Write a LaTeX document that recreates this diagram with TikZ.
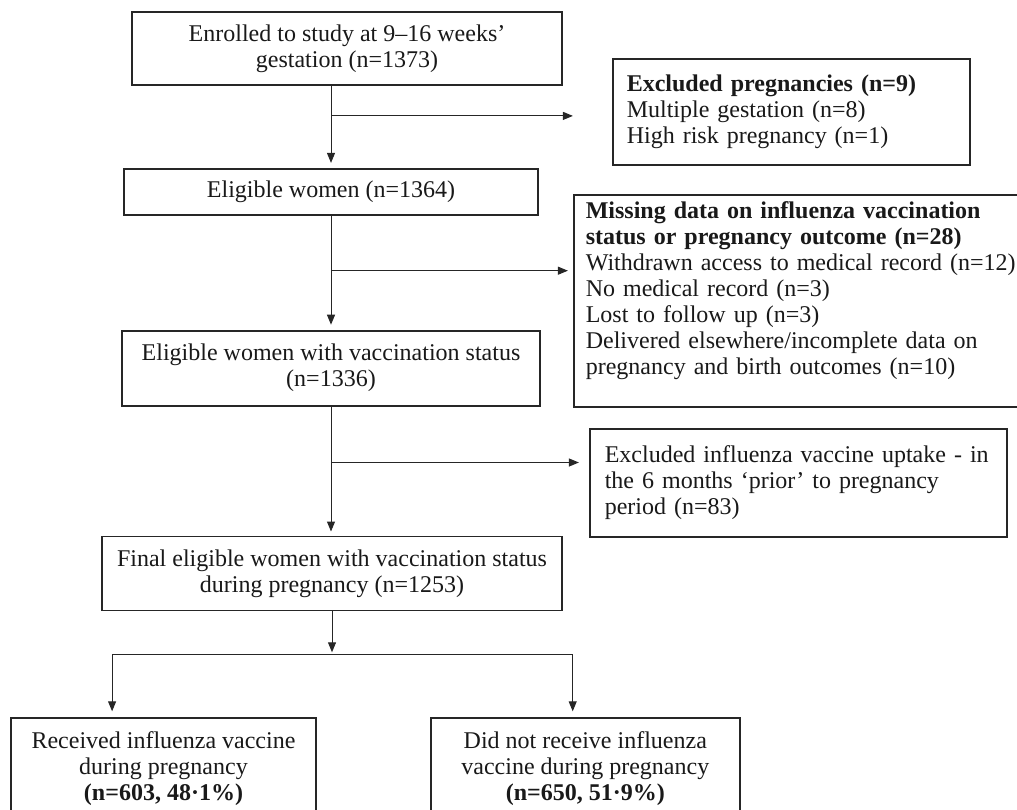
\documentclass[tikz,border=0pt]{standalone}
\usepackage{fontspec}
\setmainfont{Liberation Serif}
\usetikzlibrary{positioning,arrows.meta}
\tikzset{
	central/.style={rectangle, draw=black!85, line width=0.9pt, fill=white,
		text=black!90, font=\fontsize{12}{13}\selectfont, align=center,
		inner sep=1pt},
	lateral/.style={rectangle, draw=black!85, line width=0.9pt, fill=white,
		text=black!90, font=\fontsize{12}{13}\selectfont, align=left,
		inner ysep=1pt},
	flecha/.style={draw=black!85, line width=0.5pt,
		-{Triangle[length=5pt,width=4pt]}},
	linea/.style={draw=black!85, line width=0.5pt}
}

\begin{document}
\begin{tikzpicture}[node distance=0.4cm]
			\useasboundingbox (0,0) rectangle (508.5pt,-404.5pt);
			\clip (0,0) rectangle (508.5pt,-404.5pt);
			
			\node[central, minimum width=215pt, minimum height=36.5pt] (enrol) at (173.5pt,-24.25pt) {Enrolled to study at 9–16 weeks’\\gestation (n=1373)};
			\node[central, minimum width=207pt, minimum height=23pt, below=41pt of enrol, xshift=-8pt] (elig) {Eligible women (n=1364)};
			\node[central, minimum width=209pt, minimum height=37.5pt, below=57pt of elig] (status) {Eligible women with vaccination status\\(n=1336)};
			\node[central, minimum width=230pt, minimum height=37pt, below=64.5pt of status, xshift=0.5pt] (final) {Final eligible women with vaccination status\\during pregnancy (n=1253)};
			\node[central, minimum width=152.5pt, minimum height=50pt, below=53pt of final, xshift=-84.25pt] (vacc) {Received influenza vaccine\\during pregnancy\\\textbf{(n=603, 48·1\%)}};
			\node[central, minimum width=154.5pt, minimum height=50pt, right=56.5pt of vacc] (novacc) {Did not receive influenza\\vaccine during pregnancy\\\textbf{(n=650, 51·9\%)}};
			
			\node[lateral, text width=164.5pt, inner xsep=7pt, minimum height=53pt, below right=23.5pt and 24.5pt of enrol.north east] (excl) {\textbf{Excluded pregnancies (n=9)}\\Multiple gestation (n=8)\\High risk pregnancy (n=1)};
			\node[lateral, text width=216pt, inner xsep=6pt, minimum height=106pt, below right=13pt and 17pt of elig.north east] (miss) {\textbf{Missing data on influenza vaccination}\\\textbf{status or pregnancy outcome (n=28)}\\Withdrawn access to medical record (n=12)\\No medical record (n=3)\\Lost to follow up (n=3)\\Delivered elsewhere/incomplete data on\\pregnancy and birth outcomes (n=10)\\\mbox{}};
			\node[lateral, text width=193.5pt, inner xsep=7.5pt, minimum height=54pt, below right=49pt and 24pt of status.north east] (prior) {Excluded influenza vaccine uptake - in\\the 6 months ‘prior’ to pregnancy\\period (n=83)};
			
			\draw[flecha, shorten >=2.5pt] (enrol.south -| elig.north) -- (elig.north);
			\path (enrol.south -| elig.north) ++(0,-15pt) coordinate (j1);
			\draw[flecha, shorten >=19.5pt] (j1) -- (j1 -| excl.west);
			
			\draw[flecha, shorten >=2.5pt] (elig.south) -- (status.north);
			\path (elig.south) ++(0,-27.5pt) coordinate (j2);
			\draw[flecha, shorten >=2.5pt] (j2) -- (j2 -| miss.west);
			
			\draw[flecha, shorten >=2pt] (status.south) -- (status.south |- final.north);
			\path (status.south) ++(0,-28pt) coordinate (j3);
			\draw[flecha, shorten >=5pt] (j3) -- (j3 -| prior.west);
			
			\path (final.south) ++(0,-21.5pt) coordinate (bmid);
			\draw[flecha, shorten >=1pt] (final.south) -- (bmid);
			\path (bmid -| vacc.west) ++(51pt,0) coordinate (b1);
			\path (bmid -| novacc.east) ++(-84pt,0) coordinate (b2);
			\draw[linea] (b1) -- (b2);
			\draw[flecha, shorten >=3pt] (b1) -- (b1 |- vacc.north);
			\draw[flecha, shorten >=3pt] (b2) -- (b2 |- novacc.north);
		\end{tikzpicture}
\end{document}
